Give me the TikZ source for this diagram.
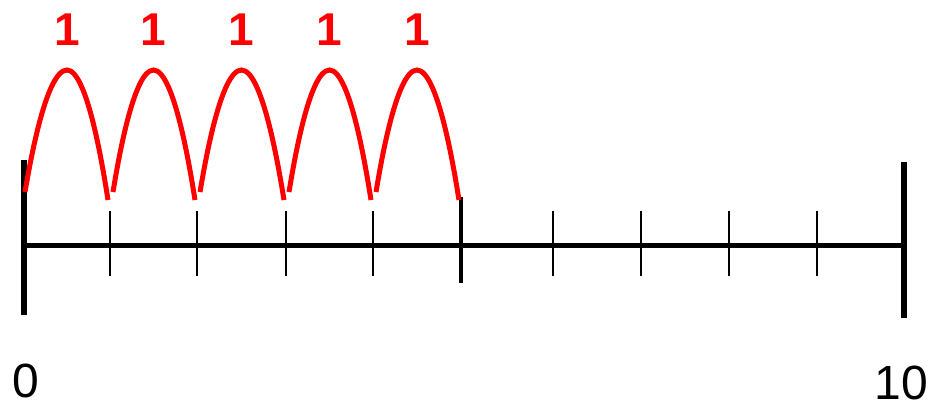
\documentclass[tikz,border=0pt]{standalone}
\usepackage{fontspec}
\setmainfont{Liberation Sans}
\usetikzlibrary{positioning,calc}
\definecolor{hopred}{HTML}{FF0000}
\begin{document}
\begin{tikzpicture}[x=1pt,y=-1pt,
  axisline/.style={line width=5pt},
  endtick/.style={line width=5.5pt},
  halftick/.style={line width=4pt},
  smalltick/.style={line width=2pt},
  hop/.style={hopred,line width=5pt},
  hoplabel/.style={text=hopred,font=\fontsize{46}{46}\selectfont\bfseries},
  numlabel/.style={font=\fontsize{48}{48}\selectfont}]
\useasboundingbox (0,0) rectangle (932,408);
% tick positions on the line
\foreach \i/\x in {0/24,1/110,2/197,3/286,4/373,5/461,6/553,7/641,8/729,9/817,10/904}
  \coordinate (t\i) at (\x,245);
\draw[axisline] (t0) -- (t10);
% end and middle ticks
\draw[endtick] ([yshift=85pt]t0) -- ([yshift=-70pt]t0);
\draw[endtick] ([yshift=83pt]t10) -- ([yshift=-73pt]t10);
\draw[halftick] ([yshift=48pt]t5) -- ([yshift=-38pt]t5);
\foreach \i in {1,2,3,4,6,7,8,9}
  \draw[smalltick] ([yshift=34pt]t\i) -- ([yshift=-31pt]t\i);
% hops of one
\foreach \i/\j/\s in {0/1/1,1/2/3,2/3/3,3/4/3,4/5/3}{
  \coordinate (p\i) at ($(t\i)!0.5!(t\j)+(0,-175)$);
  \draw[hop] ([xshift=\s pt,yshift=53pt]t\i) parabola bend (p\i) ([xshift=-2pt,yshift=45pt]t\j);
  \node[hoplabel] (h\i) at ([yshift=40pt]p\i) {1};
}
% end labels
\node[numlabel] (n0) at ([xshift=2pt,yshift=-136pt]t0) {0};
\node[numlabel] (n10) at ([xshift=-3pt,yshift=-138pt]t10) {10};
\end{tikzpicture}
\end{document}
